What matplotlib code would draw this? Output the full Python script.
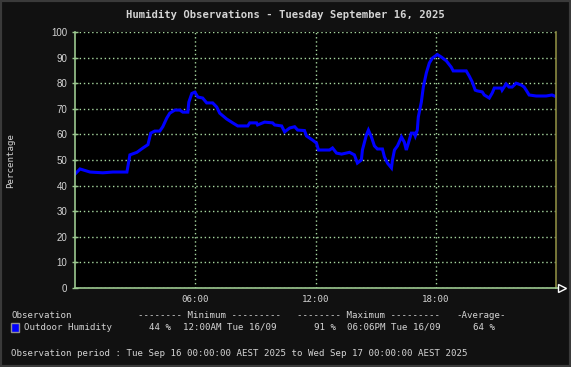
""" plot.py
Daily humidity observation chart (weather station style).
"""

import matplotlib
matplotlib.use("Agg")
import matplotlib.pyplot as plt
from matplotlib.patches import Rectangle

# Data: hours after midnight and outdoor humidity (%)
HOURS = [0.00, 0.25, 0.75, 1.39, 1.89, 2.59, 2.74, 3.09, 3.39, 3.64, 3.78, 3.98,
         4.23, 4.38, 4.58, 4.73, 4.98, 5.23, 5.38, 5.63, 5.68, 5.83, 5.98, 6.13,
         6.37, 6.57, 6.87, 7.07, 7.22, 7.57, 7.87, 8.12, 8.62, 8.72, 9.06, 9.11,
         9.46, 9.86, 9.96, 10.31, 10.46, 10.71, 10.96, 11.11, 11.45, 11.55, 11.85,
         12.05, 12.15, 12.70, 12.85, 13.05, 13.30, 13.70, 13.94, 14.09, 14.29,
         14.34, 14.54, 14.64, 14.79, 14.94, 15.09, 15.34, 15.44, 15.59, 15.79,
         15.84, 15.94, 16.09, 16.29, 16.43, 16.53, 16.68, 16.78, 16.93, 16.98,
         17.08, 17.13, 17.28, 17.38, 17.53, 17.68, 17.83, 18.08, 18.28, 18.53,
         18.77, 18.87, 19.52, 19.67, 19.82, 19.97, 20.07, 20.32, 20.42, 20.67,
         20.82, 20.92, 21.27, 21.31, 21.51, 21.66, 21.81, 22.01, 22.26, 22.41,
         22.51, 22.66, 23.01, 23.51, 23.80, 23.92]
HUMIDITY = [44.5, 46.5, 45.3, 45.0, 45.3, 45.3, 52.0, 53.0, 54.7, 56.0, 60.5, 61.3,
            61.3, 63.0, 66.4, 68.3, 69.5, 69.5, 68.7, 68.7, 72.6, 76.0, 76.5, 74.6,
            74.2, 72.3, 72.3, 70.7, 68.3, 66.0, 64.5, 63.3, 63.3, 64.5, 64.5, 63.7,
            64.8, 64.5, 63.7, 63.3, 61.0, 62.5, 63.0, 61.7, 61.5, 59.4, 57.8,
            56.6, 53.9, 53.9, 54.7, 52.7, 52.3, 53.0, 52.0, 48.8, 50.0,
            53.9, 59.8, 61.7, 59.0, 55.5, 54.3, 54.3, 51.2, 48.8, 46.9,
            50.0, 53.9, 55.5, 59.0, 57.0, 53.9, 57.8, 60.5, 60.5, 59.4,
            61.7, 66.8, 72.6, 78.5, 84.0, 87.9, 89.8, 91.2, 90.2, 88.7,
            86.3, 84.8, 84.8, 82.8, 80.5, 77.3, 77.0, 76.6, 75.4, 74.2,
            76.2, 78.1, 78.1, 77.3, 79.7, 78.5, 78.5, 80.0, 79.3, 78.5,
            77.3, 75.4, 75.0, 75.0, 75.4, 75.0]

X_TICKS = [6, 12, 18]
X_LABELS = ["06:00", "12:00", "18:00"]
Y_TICKS = list(range(0, 101, 10))

# Colours
BG = "#111111"
FRAME = "#3a3a3a"
TEXT = "#d4d4d4"
GRID = "#a8d8a0"
AXIS = "#9cc890"
RIGHT = "#8a8a40"
LINE = "#0000ff"
MONO = "DejaVu Sans Mono"

W, H = 571, 367
fig = plt.figure(figsize=(W / 100, H / 100), dpi=100, facecolor=BG)
fig.patches.append(Rectangle((0, 0), 1, 1, transform=fig.transFigure,
                             fill=False, edgecolor=FRAME, linewidth=3))

ax = fig.add_axes([75 / W, 1 - 288 / H, 481 / W, 256 / H], facecolor="black")
ax.plot(HOURS, HUMIDITY, color=LINE, linewidth=2.2, solid_joinstyle="miter")
ax.set_xlim(0, 24)
ax.set_ylim(0, 100)
ax.set_xticks(X_TICKS)
ax.set_xticklabels(X_LABELS, family=MONO, fontsize=6.6, color=TEXT)
ax.set_yticks(Y_TICKS)
ax.set_yticklabels([str(v) for v in Y_TICKS], family="Liberation Sans",
                   fontsize=7, color=TEXT)
ax.tick_params(axis="both", direction="inout", length=5, width=1, colors=AXIS,
               labelcolor=TEXT, pad=3)
ax.tick_params(axis="x", length=0, pad=5)
ax.grid(True, color=GRID, linestyle=(0, (1, 2)), linewidth=1)

for side in ["left", "bottom"]:
    ax.spines[side].set_color(AXIS)
    ax.spines[side].set_linewidth(1.2)
ax.spines["right"].set_color(RIGHT)
ax.spines["right"].set_linewidth(1.2)
ax.spines["top"].set_visible(False)

# extend bottom axis with an arrow head
ax.plot([1.0, 1.01], [0, 0], color=AXIS, lw=1.2, transform=ax.transAxes, clip_on=False)
ax.plot([1.012], [0], marker=">", markersize=6, markerfacecolor=BG,
        markeredgecolor="white", markeredgewidth=1, transform=ax.transAxes,
        clip_on=False)

ax.set_ylabel("Percentage", family=MONO, fontsize=6.6, color=TEXT, labelpad=26)


def txt(x, y, s, **kw):
    style = dict(family=MONO, fontsize=6.6, color=TEXT, va="center")
    style.update(kw)
    fig.text(x / W, 1 - y / H, s, **style)


txt(W / 2, 15, "Humidity Observations - Tuesday September 16, 2025",
    ha="center", fontsize=7.6, fontweight="bold")

# Summary table
txt(11, 315, "Observation")
txt(138, 315, "-------- Minimum ---------")
txt(297, 315, "-------- Maximum ---------")
txt(456, 315, "-Average-")

fig.patches.append(Rectangle((11 / W, 1 - 332 / H), 8 / W, 9 / H,
                             transform=fig.transFigure, facecolor=LINE,
                             edgecolor="#909090", linewidth=1))
txt(24, 327, "Outdoor Humidity")
txt(149, 327, "44 %")
txt(183, 327, "12:00AM Tue 16/09")
txt(314, 327, "91 %")
txt(347, 327, "06:06PM Tue 16/09")
txt(473, 327, "64 %")

txt(11, 353, "Observation period : Tue Sep 16 00:00:00 AEST 2025 to "
             "Wed Sep 17 00:00:00 AEST 2025")

fig.savefig("out.png", dpi=100, facecolor=BG)
